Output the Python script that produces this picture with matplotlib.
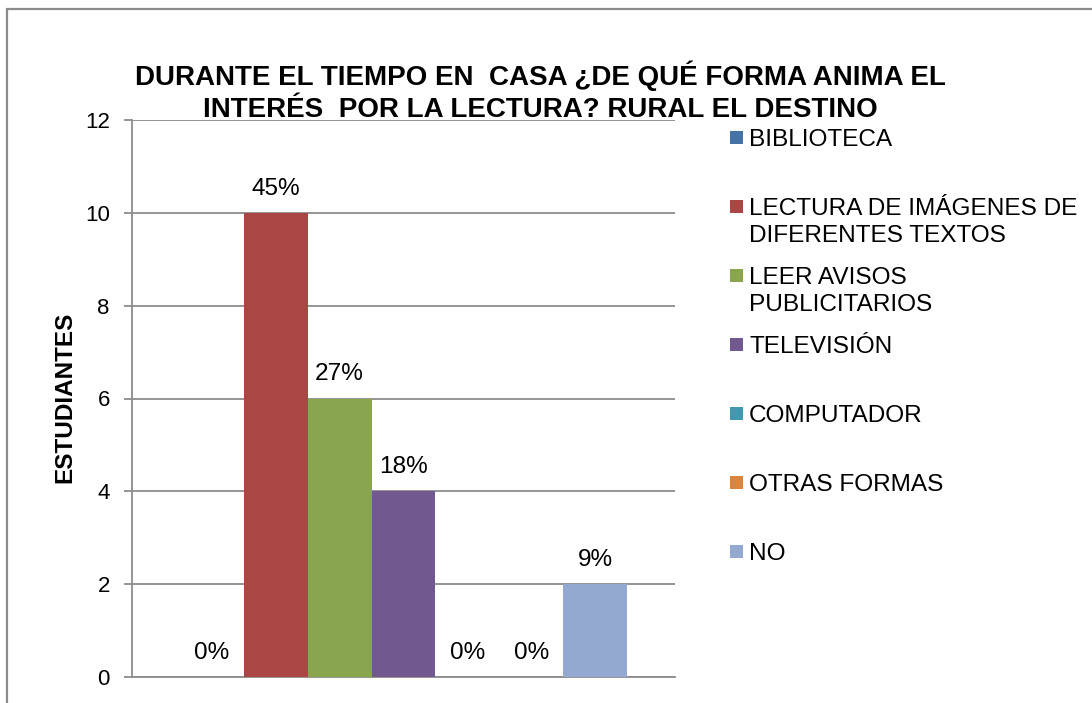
import matplotlib
matplotlib.use("Agg")
import matplotlib.pyplot as plt
from matplotlib.patches import Rectangle

plt.rcParams['font.family'] = ['Liberation Sans', 'DejaVu Sans']

title = "DURANTE EL TIEMPO EN  CASA ¿DE QUÉ FORMA ANIMA EL\nINTERÉS  POR LA LECTURA? RURAL EL DESTINO"
series = ["BIBLIOTECA", "LECTURA DE IMÁGENES DE\nDIFERENTES TEXTOS", "LEER AVISOS\nPUBLICITARIOS",
          "TELEVISIÓN", "COMPUTADOR", "OTRAS FORMAS", "NO"]
values = [0, 10, 6, 4, 0, 0, 2]
labels = ["0%", "45%", "27%", "18%", "0%", "0%", "9%"]
colors = ["#4572A7", "#AA4643", "#89A54E", "#71588F", "#4198AF", "#DB843D", "#93A9CF"]
yticks = [0, 2, 4, 6, 8, 10, 12]
ylabel = "ESTUDIANTES"

W, H = 1092, 703
fig = plt.figure(figsize=(W / 100, H / 100), dpi=100)

def fx(px):
    return px / W

def fy(py):
    return 1 - py / H

# outer border (only top and left visible)
fig.add_artist(Rectangle((fx(7), fy(H + 20)), fx(W + 20), (H + 20 - 9) / H,
                         transform=fig.transFigure, fill=False,
                         edgecolor="#8c8c8c", linewidth=1.6))

ax = fig.add_axes([fx(132), fy(677), fx(675 - 132), (677 - 120) / H])
n = len(values)
xs = [i - (n - 1) / 2 for i in range(n)]
ax.bar(xs, values, width=1.0, color=colors, zorder=3)
for x, v, lab in zip(xs, values, labels):
    ax.annotate(lab, (x, v), xytext=(0, 24), textcoords="offset pixels",
                ha="center", va="center", fontsize=17.6, color="black", zorder=4)

ax.set_xlim(-4.25, 4.25)
ax.set_ylim(0, 12)
ax.set_yticks(yticks)
ax.set_yticklabels([str(t) for t in yticks], fontsize=16)
ax.set_xticks([])
ax.grid(axis="y", color="#8c8c8c", linewidth=1.3, zorder=0)
for s in ["top", "right"]:
    ax.spines[s].set_visible(False)
for s in ["left", "bottom"]:
    ax.spines[s].set_color("#8c8c8c")
    ax.spines[s].set_linewidth(1.3)
ax.tick_params(axis="y", length=6, color="#8c8c8c", width=1.3, pad=10)

fig.text(fx(65), fy(397), ylabel, rotation=90, ha="center", va="center",
         fontsize=17.5, fontweight="bold")

fig.text(fx(540), fy(92), title, ha="center", va="center", fontsize=20,
         fontweight="bold", linespacing=1.28)

# legend
leg_y = [138, 207, 276, 345, 414, 483, 552]
for name, c, y in zip(series, colors, leg_y):
    fig.add_artist(Rectangle((fx(730), fy(y + 6)), fx(13), 13 / H,
                             transform=fig.transFigure, facecolor=c, edgecolor="none"))
    fig.text(fx(749), fy(y - 9), name, ha="left", va="top", fontsize=17.6,
             linespacing=1.32)

fig.savefig("out.png", dpi=100)
